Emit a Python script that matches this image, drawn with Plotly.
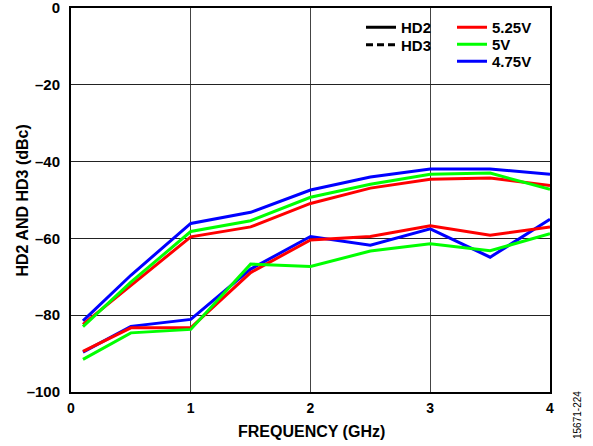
import plotly.graph_objects as go

freq_ghz = [0.1, 0.5, 1.0, 1.5, 2.0, 2.5, 3.0, 3.5, 4.0]

hd2_475 = [-81.5, -69.6, -56.1, -53.2, -47.4, -44.0, -41.9, -41.9, -43.3]
hd2_500 = [-83.0, -71.4, -58.2, -55.4, -49.3, -45.9, -43.3, -43.0, -47.2]
hd2_525 = [-82.4, -72.2, -59.6, -57.0, -50.9, -46.9, -44.6, -44.3, -46.2]

hd3_475 = [-89.6, -82.9, -81.1, -68.0, -59.5, -61.8, -57.5, -64.9, -55.0]
hd3_500 = [-91.5, -84.6, -83.7, -66.7, -67.3, -63.3, -61.4, -63.2, -58.8]
hd3_525 = [-89.4, -83.3, -83.3, -68.9, -60.4, -59.5, -56.7, -59.2, -57.0]

harmonic_names = ["HD2", "HD3"]
supply_names = ["5.25V", "5V", "4.75V"]
supply_colors = ["#FF0000", "#00FF00", "#0000FF"]

x_ticks = [0, 1, 2, 3, 4]
y_ticks = [0, -20, -40, -60, -80, -100]
y_tick_text = ["0", "–20", "–40", "–60", "–80", "–100"]

FONT = "Liberation Sans, Arial, sans-serif"
LW = 3
W, H = 593, 446
ML, MR, MT, MB = 71, 43, 8, 54
PW, PH = W - ML - MR, H - MT - MB


def px_x(p):
    return (p - ML) / PW


def px_y(p):
    return (H - MB - p) / PH


fig = go.Figure()

series = [
    (hd2_475, "#0000FF"), (hd2_525, "#FF0000"), (hd2_500, "#00FF00"),
    (hd3_475, "#0000FF"), (hd3_525, "#FF0000"), (hd3_500, "#00FF00"),
]
for ys, col in series:
    fig.add_trace(go.Scatter(x=freq_ghz, y=ys, mode="lines",
                             line=dict(color=col, width=LW), showlegend=False,
                             hoverinfo="skip"))

# legend entries, one legend per row for exact placement
legend_defs = []
fig.add_trace(go.Scatter(x=[None], y=[None], mode="lines", name=harmonic_names[0],
                         line=dict(color="black", width=LW), legend="legend"))
legend_defs.append(("legend", 361, 27.5))
fig.add_trace(go.Scatter(x=[None], y=[None], mode="lines", name=harmonic_names[1],
                         line=dict(color="black", width=LW, dash="7px,4px"),
                         legend="legend2"))
legend_defs.append(("legend2", 361, 45))
rows_y = [27.5, 44.5, 61.5]
for i, (n, c) in enumerate(zip(supply_names, supply_colors)):
    key = "legend%d" % (i + 3)
    fig.add_trace(go.Scatter(x=[None], y=[None], mode="lines", name=n,
                             line=dict(color=c, width=LW), legend=key))
    legend_defs.append((key, 452, rows_y[i]))

legend_common = dict(font=dict(family=FONT, size=15, color="black", weight="bold"),
                     bgcolor="rgba(255,255,255,0)", borderwidth=0,
                     itemwidth=30, xanchor="left", yanchor="middle",
                     xref="paper", yref="paper")
legends = {}
for key, lx, ly in legend_defs:
    legends[key] = dict(x=px_x(lx), y=px_y(ly), **legend_common)

xtick_font = dict(family=FONT, size=14, weight="bold", color="black")
ytick_font = dict(family=FONT, size=15, weight="bold", color="black")
title_font = dict(family=FONT, size=16, weight="bold", color="black")

fig.update_layout(
    width=W, height=H,
    margin=dict(l=ML, r=MR, t=MT, b=MB),
    paper_bgcolor="white", plot_bgcolor="white",
    font=dict(family=FONT, size=12, color="black"),
    **legends,
    xaxis=dict(range=[0, 4], tickvals=x_ticks, ticks="", showline=True, linewidth=2,
               linecolor="black", mirror=True, showgrid=True, gridcolor="#444444",
               gridwidth=1, zeroline=False, automargin=False,
               ticklabelstandoff=2, ticklabeloverflow="allow", tickfont=xtick_font),
    yaxis=dict(range=[-100, 0], tickvals=y_ticks, ticktext=y_tick_text, ticks="",
               showline=True, linewidth=2, linecolor="black", mirror=True,
               showgrid=True, gridcolor="#222222", gridwidth=1, zeroline=False,
               automargin=False, ticklabelstandoff=6, ticklabeloverflow="allow",
               tickfont=ytick_font),
    annotations=[
        dict(text="FREQUENCY (GHz)", x=px_x(311), y=px_y(431), xref="paper", yref="paper",
             showarrow=False, xanchor="center", yanchor="middle", font=title_font),
        dict(text="HD2 AND HD3 (dBc)", x=px_x(21.5), y=px_y(201), xref="paper",
             yref="paper", showarrow=False, textangle=-90, xanchor="center",
             yanchor="middle", font=title_font),
        dict(text="15671-224", x=px_x(577), y=px_y(415), xref="paper", yref="paper",
             showarrow=False, textangle=-90, xanchor="center", yanchor="middle",
             font=dict(family=FONT, size=10, color="black")),
    ],
)

fig.write_html("out.html", config={"displayModeBar": False},
               post_script="document.body.style.margin='0';")
